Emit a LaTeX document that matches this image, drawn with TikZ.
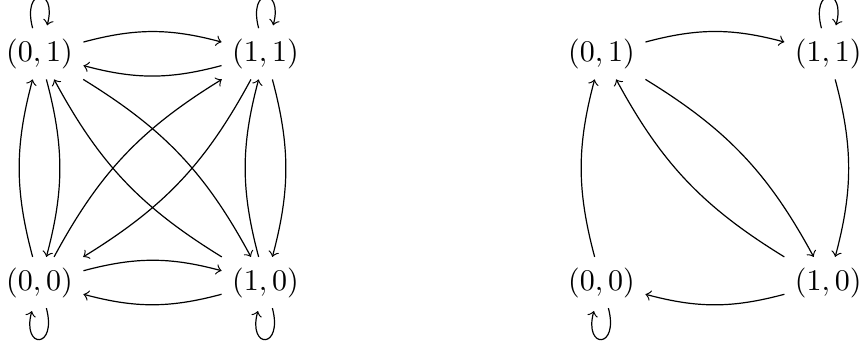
\documentclass[tikz,border=0pt]{standalone}
\begin{document}
\begin{tikzpicture}[x=0.33333pt,y=-0.33333pt,
  st/.style={inner sep=0.3333em},
  tr/.style={->,bend left=15},
  lpa/.style={->,loop above},
  lpb/.style={->,loop below}]
\useasboundingbox (0,0) rectangle (861,345);
% left graph
\node[st] (a01) at (39.5,53.8) {$(0,1)$};
\node[st] (a11) at (265.5,53.8) {$(1,1)$};
\node[st] (a00) at (39.5,282.5) {$(0,0)$};
\node[st] (a10) at (265.5,282.5) {$(1,0)$};
% right graph
\node[st] (b01) at (601.5,53.8) {$(0,1)$};
\node[st] (b11) at (828.3,53.8) {$(1,1)$};
\node[st] (b00) at (601.5,282.5) {$(0,0)$};
\node[st] (b10) at (828.3,282.5) {$(1,0)$};
% left edges
\path (a01) edge[tr] (a11) (a11) edge[tr] (a01)
      (a00) edge[tr] (a10) (a10) edge[tr] (a00)
      (a00) edge[tr] (a01) (a01) edge[tr] (a00)
      (a10) edge[tr] (a11) (a11) edge[tr] (a10)
      (a01) edge[tr] (a10) (a10) edge[tr] (a01)
      (a00) edge[tr] (a11) (a11) edge[tr] (a00);
\path (a01) edge[lpa] (a01) (a11) edge[lpa] (a11)
      (a00) edge[lpb] (a00) (a10) edge[lpb] (a10);
% right edges
\path (b01) edge[tr] (b11)
      (b11) edge[tr] (b10)
      (b10) edge[tr] (b00)
      (b00) edge[tr] (b01)
      (b01) edge[tr] (b10) (b10) edge[tr] (b01);
\path (b11) edge[lpa] (b11) (b00) edge[lpb] (b00);
\end{tikzpicture}
\end{document}
